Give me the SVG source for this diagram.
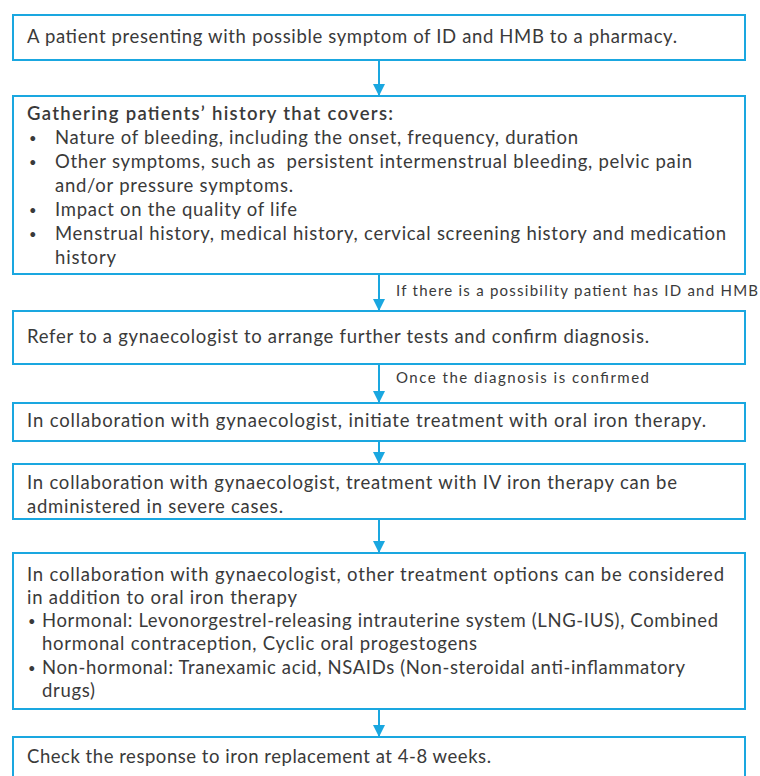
<svg xmlns="http://www.w3.org/2000/svg" width="760" height="776" viewBox="0 0 760 776">
<style>
.box{fill:#fff;stroke:#1aa7e0;stroke-width:2}
.t{font-family:Lato,"Open Sans","Liberation Sans",sans-serif;font-size:18.5px;fill:#3a3a3a}
.b{font-weight:600}
.bu{font-family:Lato,"Open Sans","Liberation Sans",sans-serif;font-size:13px;fill:#3a3a3a}
.lbl{font-family:Lato,"Open Sans","Liberation Sans",sans-serif;font-size:15px;fill:#3a3a3a}
.conn{stroke:#1aa7e0;stroke-width:2;fill:none;marker-end:url(#ah)}
</style>
<defs>
<marker id="ah" markerWidth="12" markerHeight="12" refX="11" refY="6" orient="auto" markerUnits="userSpaceOnUse" viewBox="0 0 12 12">
<path d="M0,0 L12,6 L0,12 Z" fill="#1aa7e0"/>
</marker>
</defs>
<rect width="760" height="776" fill="#fff"/>
<g id="connectors">
<line class="conn" x1="379" y1="60" x2="379" y2="95"/>
<line class="conn" x1="379" y1="274" x2="379" y2="310"/>
<line class="conn" x1="379" y1="364" x2="379" y2="402"/>
<line class="conn" x1="379" y1="441" x2="379" y2="463"/>
<line class="conn" x1="379" y1="519" x2="379" y2="552"/>
<line class="conn" x1="379" y1="709" x2="379" y2="736"/>
<text class="lbl" x="396" y="296" textLength="362">If there is a possibility patient has ID and HMB</text>
<text class="lbl" x="396" y="383" textLength="253">Once the diagnosis is confirmed</text>
</g>
<g id="n1">
<rect class="box" x="13" y="15" width="732" height="45"/>
<text class="t" x="27" y="43" textLength="650">A patient presenting with possible symptom of ID and HMB to a pharmacy.</text>
</g>
<g id="n2">
<rect class="box" x="13" y="96" width="732" height="178"/>
<text class="t b" x="27" y="120" textLength="366">Gathering patients’ history that covers:</text>
<text class="bu" x="29" y="143">•</text>
<text class="t" x="55" y="144" textLength="523">Nature of bleeding, including the onset, frequency, duration</text>
<text class="bu" x="29" y="167">•</text>
<text class="t" x="55" y="168" textLength="637" xml:space="preserve">Other symptoms, such as  persistent intermenstrual bleeding, pelvic pain</text>
<text class="t" x="55" y="192" textLength="238">and/or pressure symptoms.</text>
<text class="bu" x="29" y="215">•</text>
<text class="t" x="55" y="216" textLength="242">Impact on the quality of life</text>
<text class="bu" x="29" y="239">•</text>
<text class="t" x="55" y="240" textLength="671">Menstrual history, medical history, cervical screening history and medication</text>
<text class="t" x="55" y="264" textLength="61">history</text>
</g>
<g id="n3">
<rect class="box" x="13" y="311" width="732" height="53"/>
<text class="t" x="27" y="343" textLength="622">Refer to a gynaecologist to arrange further tests and confirm diagnosis.</text>
</g>
<g id="n4">
<rect class="box" x="13" y="403" width="732" height="38"/>
<text class="t" x="27" y="427" textLength="679">In collaboration with gynaecologist, initiate treatment with oral iron therapy.</text>
</g>
<g id="n5">
<rect class="box" x="13" y="464" width="732" height="55"/>
<text class="t" x="27" y="489" textLength="650">In collaboration with gynaecologist, treatment with IV iron therapy can be</text>
<text class="t" x="27" y="513" textLength="256">administered in severe cases.</text>
</g>
<g id="n6">
<rect class="box" x="13" y="553" width="732" height="156"/>
<text class="t" x="27" y="581" textLength="697">In collaboration with gynaecologist, other treatment options can be considered</text>
<text class="t" x="27" y="604" textLength="270">in addition to oral iron therapy</text>
<text class="bu" x="28" y="626">•</text>
<text class="t" x="42" y="627" textLength="676">Hormonal: Levonorgestrel-releasing intrauterine system (LNG-IUS), Combined</text>
<text class="t" x="42" y="650" textLength="435">hormonal contraception, Cyclic oral progestogens</text>
<text class="bu" x="28" y="673">•</text>
<text class="t" x="42" y="674" textLength="643">Non-hormonal: Tranexamic acid, NSAIDs (Non-steroidal anti-inflammatory</text>
<text class="t" x="42" y="697" textLength="53">drugs)</text>
</g>
<g id="n7">
<rect class="box" x="13" y="737" width="732" height="60"/>
<text class="t" x="27" y="763" textLength="464">Check the response to iron replacement at 4-8 weeks.</text>
</g>
</svg>
